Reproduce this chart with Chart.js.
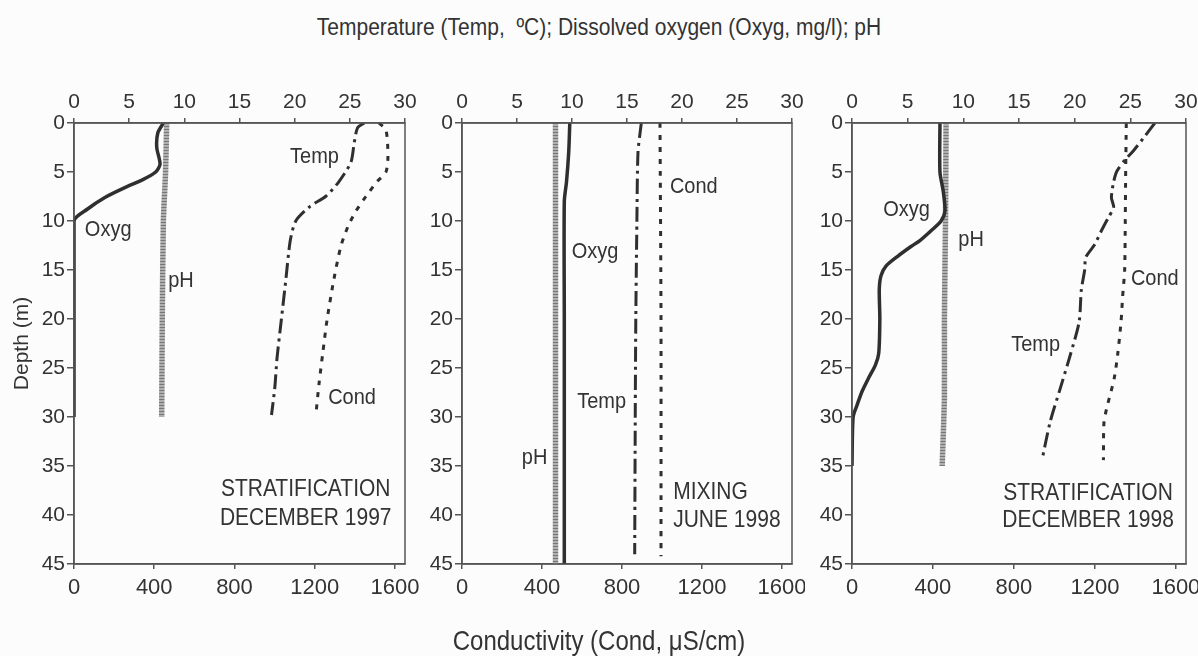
<!DOCTYPE html>
<html>
<head>
<meta charset="utf-8">
<script src="https://cdn.jsdelivr.net/npm/chart.js@4.4.1/dist/chart.umd.min.js"></script>
<style>
  body { margin: 0; background: #fcfcfc; }
  #wrap { position: relative; width: 1198px; height: 656px; overflow: hidden;
          font-family: "Liberation Sans", Arial, sans-serif; color: #333; }
  canvas { position: absolute; top: 0; }
  .title { position: absolute; left: 0; width: 1198px; text-align: center; white-space: pre;
           transform: scaleY(1.12); }
</style>
</head>
<body>
<div id="wrap">
  <div class="title" style="top:15px;font-size:21px">Temperature (Temp,  ºC); Dissolved oxygen (Oxyg, mg/l); pH</div>
  <canvas id="p1" width="420" height="656" style="left:0"></canvas>
  <canvas id="p2" width="385" height="656" style="left:420px"></canvas>
  <canvas id="p3" width="393" height="656" style="left:805px"></canvas>
  <div class="title" style="top:627px;font-size:24px">Conductivity (Cond, μS/cm)</div>
</div>
<script>
// depth profiles (depth in m, values on the top axis; Cond on the bottom axis)

// December 1997
const oxyg97Depth = [0, 1, 2.5, 4.2, 5, 5.8, 6.6, 7.6, 8.8, 10, 30];
const oxyg97 = [8.1, 7.6, 7.5, 7.8, 7.4, 6.2, 4.6, 2.8, 1.2, 0, 0];
const ph97Depth = [0, 5, 10, 20, 30];
const ph97 = [8.4, 8.3, 8.1, 8.0, 7.95];
const temp97Depth = [0, 0.5, 2, 4, 6, 7.5, 8.5, 10, 12, 16, 20, 24, 27, 29.8];
const temp97 = [26.3, 25.7, 25.4, 25.1, 24.0, 22.8, 21.4, 20.1, 19.6, 19.2, 18.8, 18.4, 18.2, 17.9];
const cond97Depth = [0, 0.7, 3.4, 5, 6, 7.5, 9, 10.6, 12.6, 16, 20, 23.5, 26.5, 29.9];
const cond97 = [1520, 1555, 1565, 1555, 1510, 1455, 1405, 1365, 1330, 1295, 1262, 1240, 1222, 1205];

// June 1998
const oxyg98jDepth = [0, 3, 6, 8, 20, 45];
const oxyg98j = [9.8, 9.7, 9.5, 9.3, 9.3, 9.3];
const ph98jDepth = [0, 20, 45];
const ph98j = [8.5, 8.5, 8.5];
const temp98jDepth = [0, 3, 10, 20, 30, 44];
const temp98j = [16.3, 16.0, 15.9, 15.8, 15.75, 15.7];
const cond98jDepth = [0, 20, 44.2];
const cond98j = [990, 995, 995];

// December 1998
const oxyg98dDepth = [0, 5, 7, 9, 10, 11, 12, 12.6, 13.6, 14.6, 15.6, 17, 20, 23.5, 24.7, 26, 27.4, 28.8, 30, 35];
const oxyg98d = [7.9, 7.9, 8.2, 8.35, 8.0, 7.1, 6.1, 5.3, 4.1, 3.05, 2.6, 2.45, 2.5, 2.4, 2.1, 1.5, 0.9, 0.45, 0.1, 0];
const ph98dDepth = [0, 10, 20, 28, 35];
const ph98d = [8.45, 8.4, 8.3, 8.3, 8.1];
const temp98dDepth = [0, 1.5, 2.8, 3.8, 4.9, 6, 7.6, 8.6, 9.7, 11, 12.4, 13.7, 15, 17, 20.3, 23.7, 27.1, 30.5, 34.2];
const temp98d = [27.2, 26.2, 25.3, 24.5, 23.8, 23.5, 23.3, 23.5, 23.0, 22.4, 21.8, 21.0, 20.9, 20.6, 20.4, 19.6, 18.7, 17.8, 17.1];
const cond98dDepth = [0, 5, 10, 15, 17.7, 20.3, 23.7, 26.1, 28.8, 30.5, 34.4];
const cond98d = [1355, 1352, 1350, 1347, 1337, 1329, 1312, 1295, 1262, 1245, 1242];

// axis ticks
const topTicks = [0, 5, 10, 15, 20, 25, 30];
const bottomTicks = [0, 400, 800, 1200, 1600];
const depthTicks = [0, 5, 10, 15, 20, 25, 30, 35, 40, 45];

const axisColor = '#555';
const inkColor = '#2f2f2f';
const textColor = '#333';
const FONT = 'Liberation Sans';

function profile(values, depths) {
  return values.map((v, i) => ({ x: v, y: depths[i] }));
}

// grey hatched stroke for pH
function hatch() {
  const c = document.createElement('canvas');
  c.width = 4; c.height = 3;
  const g = c.getContext('2d');
  g.fillStyle = '#b0b0b0'; g.fillRect(0, 0, 4, 3);
  g.fillStyle = '#777'; g.fillRect(0, 0, 4, 1);
  return g.createPattern(c, 'repeat');
}

function seriesSet(oxyg, ph, temp, cond) {
  return [
    { label: 'Oxyg', data: oxyg, xAxisID: 'xTop', borderColor: inkColor, borderWidth: 3.5, tension: 0.25 },
    { label: 'pH', data: ph, xAxisID: 'xTop', borderColor: hatch(), borderWidth: 5.5, tension: 0.2 },
    { label: 'Temp', data: temp, xAxisID: 'xTop', borderColor: inkColor, borderWidth: 3, borderDash: [15, 5, 3, 5], tension: 0.25 },
    { label: 'Cond', data: cond, xAxisID: 'xBottom', borderColor: inkColor, borderWidth: 3, borderDash: [5, 7], tension: 0.25 }
  ];
}

function noPad(s) {
  s.paddingLeft = s.paddingRight = s.paddingTop = s.paddingBottom = 0;
}

function keepTicks(list) {
  return s => { s.ticks = list.map(v => ({ value: v })); };
}

// frame + in-plot labels
const notesPlugin = {
  id: 'notes',
  afterDatasetsDraw(chart, args, opts) {
    const { ctx, chartArea: a, scales } = chart;
    ctx.save();
    ctx.strokeStyle = axisColor;
    ctx.lineWidth = 1.5;
    ctx.strokeRect(a.left, a.top, a.right - a.left, a.bottom - a.top);
    ctx.fillStyle = textColor;
    ctx.textBaseline = 'middle';
    for (const n of opts.items) {
      const px = scales.xTop.getPixelForValue(n.x);
      const py = scales.y.getPixelForValue(n.y);
      ctx.save();
      ctx.translate(px, py);
      ctx.scale(1, 1.12);
      ctx.font = (n.size || 20) + 'px "' + FONT + '"';
      ctx.textAlign = n.align || 'center';
      ctx.fillText(n.text, 0, 0);
      ctx.restore();
    }
    ctx.restore();
  }
};

function makePanel(id, datasets, yWidth, padRight, items, showTitle) {
  const tick = (size) => ({
    font: { family: FONT, size }, color: textColor, autoSkip: false, maxRotation: 0,
    callback: v => String(v)
  });
  const grid = (len) => ({ drawOnChartArea: false, tickLength: len, color: axisColor, lineWidth: 1.5 });
  const border = { color: axisColor, width: 1.5 };
  return new Chart(document.getElementById(id), {
    type: 'scatter',
    data: { datasets },
    plugins: [notesPlugin],
    options: {
      responsive: false,
      animation: false,
      showLine: true,
      elements: { point: { radius: 0 }, line: { fill: false, borderCapStyle: 'butt' } },
      layout: { padding: { left: 0, right: padRight, top: 0, bottom: 0 } },
      plugins: {
        legend: { display: false },
        tooltip: { enabled: false },
        notes: { items }
      },
      scales: {
        xTop: {
          type: 'linear', position: 'top', min: 0, max: 30,
          ticks: { ...tick(21), padding: 3 },
          grid: grid(5), border,
          afterBuildTicks: keepTicks(topTicks),
          afterFit: s => { s.height = 123; noPad(s); }
        },
        xBottom: {
          type: 'linear', position: 'bottom', min: 0, max: 1650,
          ticks: { ...tick(22), padding: 6 },
          grid: grid(5), border,
          afterBuildTicks: keepTicks(bottomTicks),
          afterFit: s => { s.height = 92; noPad(s); }
        },
        y: {
          type: 'linear', reverse: true, min: 0, max: 45,
          ticks: { ...tick(21), padding: 2 },
          grid: grid(7), border,
          afterBuildTicks: keepTicks(depthTicks),
          title: { display: showTitle, text: 'Depth (m)', color: textColor, font: { family: FONT, size: 21 }, padding: { top: 10, bottom: 0 } },
          afterFit: s => { s.width = yWidth; noPad(s); }
        }
      }
    }
  });
}

makePanel('p1',
  seriesSet(profile(oxyg97, oxyg97Depth), profile(ph97, ph97Depth), profile(temp97, temp97Depth), profile(cond97, cond97Depth)),
  74, 15,
  [
    { text: 'Temp', x: 21.8, y: 3.5 },
    { text: 'Oxyg', x: 3.1, y: 10.9 },
    { text: 'pH', x: 9.7, y: 16.1 },
    { text: 'Cond', x: 25.2, y: 28.0 },
    { text: 'STRATIFICATION', x: 21.0, y: 37.4, size: 21 },
    { text: 'DECEMBER 1997', x: 21.0, y: 40.4, size: 21 }
  ], true);

makePanel('p2',
  seriesSet(profile(oxyg98j, oxyg98jDepth), profile(ph98j, ph98jDepth), profile(temp98j, temp98jDepth), profile(cond98j, cond98jDepth)),
  42, 13,
  [
    { text: 'Cond', x: 18.9, y: 6.5, align: 'left' },
    { text: 'Oxyg', x: 12.1, y: 13.1 },
    { text: 'Temp', x: 12.7, y: 28.5 },
    { text: 'pH', x: 6.6, y: 34.2 },
    { text: 'MIXING', x: 19.2, y: 37.7, align: 'left', size: 21 },
    { text: 'JUNE 1998', x: 19.2, y: 40.6, align: 'left', size: 21 }
  ], false);

makePanel('p3',
  seriesSet(profile(oxyg98d, oxyg98dDepth), profile(ph98d, ph98dDepth), profile(temp98d, temp98dDepth), profile(cond98d, cond98dDepth)),
  47, 12,
  [
    { text: 'Oxyg', x: 4.9, y: 8.9 },
    { text: 'pH', x: 10.7, y: 11.9 },
    { text: 'Cond', x: 27.2, y: 15.9 },
    { text: 'Temp', x: 16.5, y: 22.6 },
    { text: 'STRATIFICATION', x: 21.2, y: 37.8, size: 21 },
    { text: 'DECEMBER 1998', x: 21.2, y: 40.6, size: 21 }
  ], false);
</script>
</body>
</html>
